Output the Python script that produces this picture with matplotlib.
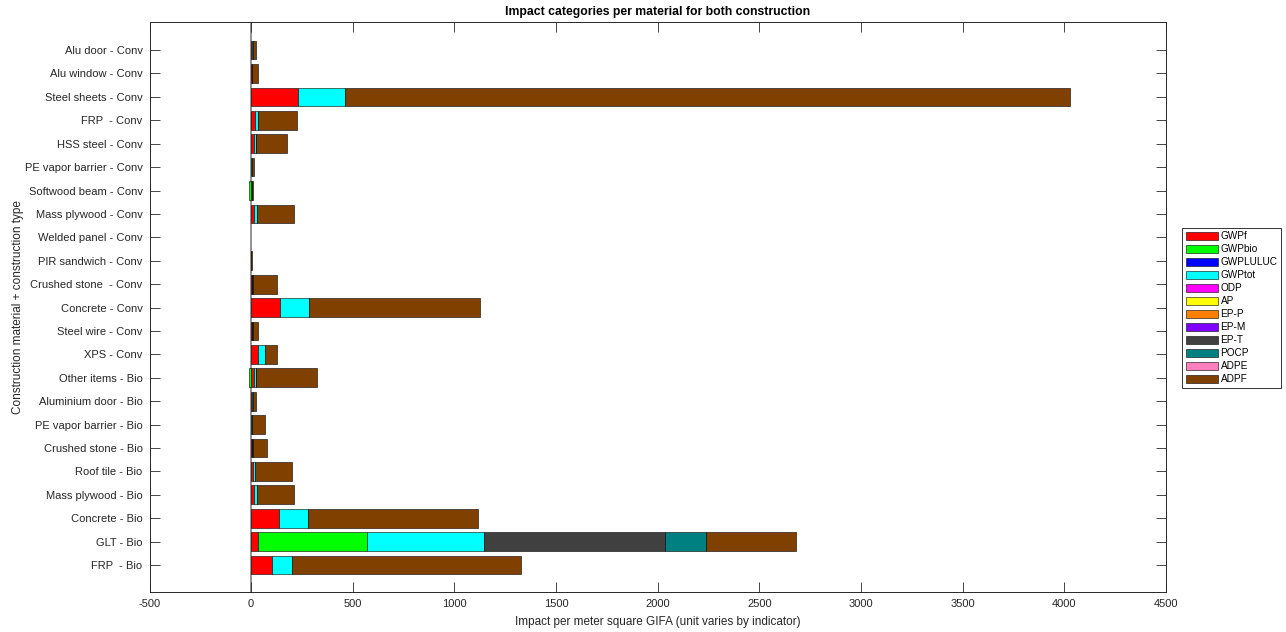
import numpy as np
import matplotlib
matplotlib.use("Agg")
import matplotlib.pyplot as plt

plt.rcParams['font.family'] = ['Liberation Sans', 'DejaVu Sans']
plt.rcParams['axes.unicode_minus'] = False

### Data (bottom row first, as in the original barh order)

materials = [
    "FRP  - Bio", "GLT - Bio", "Concrete - Bio", "Mass plywood - Bio",
    "Roof tile - Bio", "Crushed stone - Bio", "PE vapor barrier - Bio",
    "Aluminium door - Bio", "Other items - Bio", "XPS - Conv",
    "Steel wire - Conv", "Concrete - Conv", "Crushed stone  - Conv",
    "PIR sandwich - Conv", "Welded panel - Conv", "Mass plywood - Conv",
    "Softwood beam - Conv", "PE vapor barrier - Conv", "HSS steel - Conv",
    "FRP  - Conv", "Steel sheets - Conv", "Alu window - Conv", "Alu door - Conv",
]

indicators = ["GWPf", "GWPbio", "GWPLULUC", "GWPtot", "ODP", "AP",
              "EP-P", "EP-M", "EP-T", "POCP", "ADPE", "ADPF"]

gwpf     = [103, 34, 138, 12, 8, 2, 1, 4, 15, 34, 3, 143, 3, 1, 0, 12, 2, 1, 12, 18, 232, 3, 5]
gwpbio   = [0, 535, 0, 0, 0, 0, 0, 0, -10, 0, 0, 0, 0, 0, 0, 0, -10, 0, 0, 0, 0, 0, 0]
gwpluluc = [0] * 23
gwptot   = [98, 574, 143, 15, 10, 2, 1, 5, 8, 34, 3, 143, 3, 0, 0, 15, 0, 1, 10, 16, 228, 3, 6]
odp      = [0] * 23
ap       = [0] * 23
ep_p     = [0] * 23
ep_m     = [0] * 23
ep_t     = [0, 892, 0, 2, 0, 4, 3, 0, 3, 0, 1, 0, 3, 0, 0, 2, 0, 0, 2, 0, 0, 0, 0]
pocp     = [0, 204, 0, 0, 0, 0, 0, 0, 0, 0, 0, 0, 0, 0, 0, 0, 0, 0, 0, 0, 0, 0, 0]
adpe     = [0] * 23
adpf     = [1128, 443, 837, 180, 184, 70, 65, 14, 297, 59, 25, 838, 120, 1, 0, 180, 8, 12, 150, 190, 3570, 28, 12]

series = [gwpf, gwpbio, gwpluluc, gwptot, odp, ap, ep_p, ep_m, ep_t, pocp, adpe, adpf]

colors = ["#ff0000", "#00ff00", "#0000ff", "#00ffff", "#ff00ff", "#ffff00",
          "#ff8000", "#8000ff", "#404040", "#008080", "#ff80bf", "#804000"]

### Plot

fig = plt.figure(figsize=(12.86, 6.32), dpi=100)
ax = fig.add_axes([149.5 / 1286, 1 - 592 / 632, (1166 - 149.5) / 1286, 570 / 632])

ypos = np.arange(1, len(materials) + 1)
pos_left = np.zeros(len(materials))
neg_left = np.zeros(len(materials))

ax.axvline(0, color='0.5', linewidth=1.2, zorder=1)

for vals, name, col in zip(series, indicators, colors):
    vals = np.array(vals, dtype=float)
    left = np.where(vals >= 0, pos_left, neg_left)
    nz = vals != 0
    ax.barh(ypos[nz], vals[nz], left=left[nz], height=0.8, color=col,
            edgecolor='black', linewidth=0.4, zorder=2)
    # empty handle for the legend so every indicator is listed
    ax.barh([np.nan], [np.nan], color=col, edgecolor='black', linewidth=0.4, label=name)
    pos_left += np.where(vals > 0, vals, 0)
    neg_left += np.where(vals < 0, vals, 0)

ax.set_xlim(-500, 4500)
ax.set_ylim(-0.15, 24.2)
ax.set_xticks(np.arange(-500, 4501, 500))
ax.set_yticks(ypos)
ax.set_yticklabels(materials)

txt = '#262626'
ax.tick_params(direction='in', length=7, width=0.6, top=True, right=True,
               labelsize=8, colors=txt, pad=5)
for s in ax.spines.values():
    s.set_linewidth(0.7)
    s.set_color(txt)

ax.set_xlabel("Impact per meter square GIFA (unit varies by indicator)", fontsize=8.5, color=txt, labelpad=5)
ax.set_ylabel("Construction material + construction type", fontsize=8.5, color=txt, labelpad=0.5)
ax.set_title("Impact categories per material for both construction", fontsize=8.8,
             fontweight='bold', color='black', pad=5)

leg = fig.legend(loc='upper left', bbox_to_anchor=(1182 / 1286, 1 - 228 / 632),
                 borderaxespad=0, fontsize=7.2, frameon=True, fancybox=False,
                 handlelength=3.2, handleheight=0.95, handletextpad=0.3,
                 labelspacing=0.3, borderpad=0.35)
leg.get_frame().set_edgecolor('black')
leg.get_frame().set_linewidth(0.7)

fig.savefig("out.png", dpi=100)
